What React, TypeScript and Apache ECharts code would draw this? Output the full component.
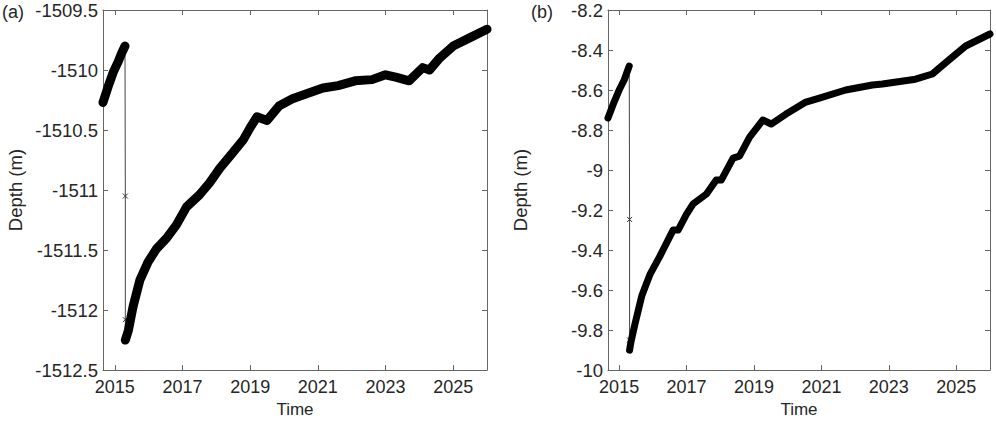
import React, { useEffect, useRef } from "react";
import * as echarts from "echarts";

// Panel (a)
const aSeg1Years = [2014.65, 2014.8, 2014.95, 2015.1, 2015.2, 2015.3];
const aSeg1Depth = [-1510.27, -1510.14, -1510.02, -1509.93, -1509.86, -1509.8];
const aJumpYears = [2015.31, 2015.31];
const aJumpDepth = [-1511.05, -1512.08];
const aSeg2Years = [
  2015.31, 2015.4, 2015.54, 2015.74, 2015.98, 2016.23, 2016.53, 2016.82, 2017.12,
  2017.5, 2017.8, 2018.1, 2018.45, 2018.8, 2019.0, 2019.2, 2019.5, 2019.85,
  2020.25, 2020.75, 2021.15, 2021.6, 2022.1, 2022.6, 2023.0, 2023.3, 2023.7,
  2024.1, 2024.3, 2024.6, 2025.0, 2025.5, 2026.0,
];
const aSeg2Depth = [
  -1512.25, -1512.17, -1511.97, -1511.75, -1511.6, -1511.49, -1511.4, -1511.29, -1511.14,
  -1511.04, -1510.94, -1510.82, -1510.7, -1510.58, -1510.48, -1510.39, -1510.42, -1510.3,
  -1510.24, -1510.19, -1510.15, -1510.13, -1510.09, -1510.08, -1510.04, -1510.06, -1510.09,
  -1509.98, -1510.0, -1509.9, -1509.8, -1509.73, -1509.66,
];

// Panel (b)
const bSeg1Years = [2014.67, 2014.85, 2015.0, 2015.15, 2015.3];
const bSeg1Depth = [-8.74, -8.66, -8.6, -8.55, -8.48];
const bJumpYears = [2015.31, 2015.31];
const bJumpDepth = [-9.247, -9.85];
const bSeg2Years = [
  2015.31, 2015.35, 2015.47, 2015.67, 2015.92, 2016.21, 2016.45, 2016.6, 2016.75,
  2017.0, 2017.19, 2017.59, 2017.88, 2018.03, 2018.38, 2018.57, 2018.87, 2019.26,
  2019.51, 2019.95, 2020.54, 2020.94, 2021.72, 2022.51, 2022.81, 2023.79, 2024.29,
  2024.78, 2025.28, 2026.0,
];
const bSeg2Depth = [
  -9.9, -9.86, -9.77, -9.63, -9.52, -9.43, -9.35, -9.3, -9.3,
  -9.22, -9.17, -9.12, -9.05, -9.05, -8.94, -8.93, -8.835, -8.75,
  -8.77, -8.72, -8.66, -8.64, -8.6, -8.575, -8.57, -8.546, -8.52,
  -8.45, -8.38, -8.32,
];

const yearTicks = [2015, 2017, 2019, 2021, 2023, 2025];
const panelLabels = ["(a)", "(b)"];
const xTitle = "Time";
const yTitle = "Depth (m)";

const zip = (xs: number[], ys: number[]) => xs.map((x, i) => [x, ys[i]]);

const FONT = "Arial";
const TEXT = "#262626";
const AXIS = "#666666";

export default function App() {
  const ref = useRef<HTMLDivElement>(null);
  useEffect(() => {
    if (!ref.current) return;
    const chart = echarts.init(ref.current, null, { renderer: "svg" });

    const panels = [
      {
        grid: { left: 103, top: 10, width: 384, height: 364 },
        xmin: 2014.65, xmax: 2026.0, ymin: -1512.5, ymax: -1509.5, yint: 0.5,
        s1: zip(aSeg1Years, aSeg1Depth), jump: zip(aJumpYears, aJumpDepth),
        s2: zip(aSeg2Years, aSeg2Depth), band: 9,
      },
      {
        grid: { left: 608, top: 10, width: 382, height: 364 },
        xmin: 2014.67, xmax: 2026.0, ymin: -10, ymax: -8.2, yint: 0.2,
        s1: zip(bSeg1Years, bSeg1Depth), jump: zip(bJumpYears, bJumpDepth),
        s2: zip(bSeg2Years, bSeg2Depth), band: 7,
      },
    ];

    const grid: any[] = [];
    const xAxis: any[] = [];
    const yAxis: any[] = [];
    const series: any[] = [];

    panels.forEach((p, i) => {
      grid.push({ ...p.grid, containLabel: false });
      const axisLine = { show: true, onZero: false, lineStyle: { color: AXIS, width: 1 } };
      xAxis.push({
        type: "value", gridIndex: i, position: "bottom", min: p.xmin, max: p.xmax,
        axisLine,
        axisTick: { show: true, inside: true, length: 5, customValues: yearTicks, lineStyle: { color: AXIS } },
        axisLabel: { show: true, customValues: yearTicks, fontSize: 18, color: TEXT, fontFamily: FONT, margin: 8, formatter: (v: number) => String(Math.round(v)) },
        splitLine: { show: false },
        name: xTitle, nameLocation: "middle", nameGap: 29,
        nameTextStyle: { fontSize: 17, color: TEXT, fontFamily: FONT },
      });
      xAxis.push({
        type: "value", gridIndex: i, position: "top", min: p.xmin, max: p.xmax,
        axisLine,
        axisTick: { show: true, inside: true, length: 5, customValues: yearTicks, lineStyle: { color: AXIS } },
        axisLabel: { show: false },
        splitLine: { show: false },
      });
      yAxis.push({
        type: "value", gridIndex: i, position: "left", min: p.ymin, max: p.ymax, interval: p.yint,
        axisLine,
        axisTick: { show: true, inside: true, length: 5, lineStyle: { color: AXIS } },
        axisLabel: {
          show: true, fontSize: 18.5, color: TEXT, fontFamily: FONT, margin: 5,
          formatter: (v: number) => String(parseFloat(v.toFixed(3))),
        },
        splitLine: { show: false },
        name: yTitle, nameLocation: "middle", nameGap: 78, nameRotate: 90,
        nameTextStyle: { fontSize: 18.5, color: TEXT, fontFamily: FONT },
      });
      yAxis.push({
        type: "value", gridIndex: i, position: "right", min: p.ymin, max: p.ymax, interval: p.yint,
        axisLine,
        axisTick: { show: true, inside: true, length: 5, lineStyle: { color: AXIS } },
        axisLabel: { show: false },
        splitLine: { show: false },
      });
      const xi = i * 2;
      const yi = i * 2;
      // thin connecting line across the jump
      series.push({
        type: "line", xAxisIndex: xi, yAxisIndex: yi,
        data: [p.s1[p.s1.length - 1], ...p.jump, p.s2[0]],
        symbol: "none", lineStyle: { color: "#444", width: 1 }, silent: true,
      });
      // isolated x markers
      series.push({
        type: "scatter", xAxisIndex: xi, yAxisIndex: yi, data: p.jump,
        symbol: "path://M0,0L10,10M10,0L0,10", symbolSize: 5,
        itemStyle: { color: "none", borderColor: "#000", borderWidth: 1 }, silent: true,
      });
      [p.s1, p.s2].forEach((seg) => {
        series.push({
          type: "line", xAxisIndex: xi, yAxisIndex: yi, data: seg,
          symbol: "none", smooth: false,
          lineStyle: { color: "#000", width: p.band, cap: "round", join: "round" },
          silent: true,
        });
      });
    });

    chart.setOption({
      animation: false,
      backgroundColor: "#fff",
      grid, xAxis, yAxis, series,
      graphic: [
        { type: "text", left: 2, top: 3, style: { text: panelLabels[0], fontSize: 18, fill: TEXT, fontFamily: FONT } },
        { type: "text", left: 531, top: 3, style: { text: panelLabels[1], fontSize: 18, fill: TEXT, fontFamily: FONT } },
      ],
    });
    return () => chart.dispose();
  }, []);
  return (
    <div
      ref={ref}
      style={{ position: "fixed", left: 0, top: 0, width: 996, height: 423, background: "#fff" }}
    />
  );
}
